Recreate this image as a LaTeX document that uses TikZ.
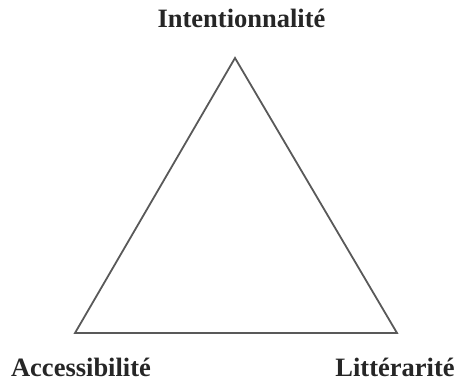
\documentclass[tikz,border=0pt]{standalone}
\usepackage{fontspec}
\setmainfont{Liberation Serif}
\begin{document}
\begin{tikzpicture}[x=1pt,y=-1pt,
  lbl/.style={anchor=base,inner sep=0pt,font=\fontsize{26.5}{30}\selectfont\bfseries,text=black!85},
  edge/.style={draw=black!65,line width=1.8pt,line join=miter}]
\useasboundingbox (0,0) rectangle (458,382);
\coordinate (T) at (235,58);
\coordinate (L) at (75,333);
\coordinate (R) at (397,333);
\draw[edge] (T) -- (L) -- (R) -- cycle;
\node[lbl] (ti) at (241.5,28) {Intentionnalité};
\node[lbl] (li) at (81,376) {Accessibilité};
\node[lbl] (ri) at (395,376) {Littérarité};
\end{tikzpicture}
\end{document}
